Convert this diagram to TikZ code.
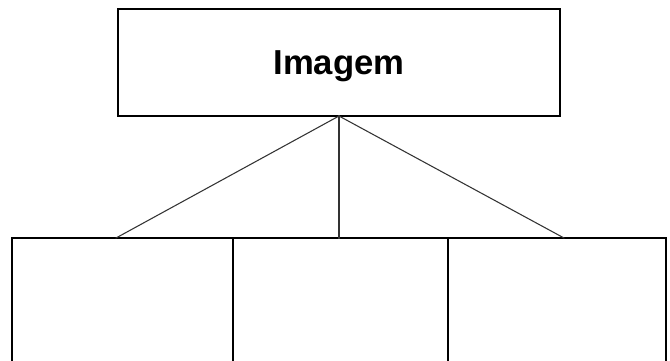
\documentclass[tikz,border=0pt]{standalone}
\usepackage{fontspec}
\setmainfont{Liberation Sans}
\usetikzlibrary{positioning}

\tikzset{
  box/.style={draw,line width=1.5pt,inner sep=0pt,outer sep=0pt},
  link/.style={line width=0.8pt,draw=black!80}
}

\begin{document}
\begin{tikzpicture}[x=0.75pt,y=-0.75pt,line cap=rect]
\useasboundingbox (0,0) rectangle (670,360);
\clip (0,0) rectangle (670,360);
% top node
\node[box,minimum width=442*0.75pt,minimum height=107*0.75pt,text depth=0pt,
  font=\fontsize{26}{30}\selectfont\bfseries] (img) at (339,62.5) {Imagem};
% bottom row, cut off by the page edge
\node[box,minimum width=220.5*0.75pt,minimum height=160*0.75pt,anchor=north west] (p1) at (12,238) {};
\node[box,minimum width=215.5*0.75pt,minimum height=160*0.75pt,anchor=north west] (p2) at (p1.north east) {};
\node[box,minimum width=218*0.75pt,minimum height=160*0.75pt,anchor=north west] (p3) at (p2.north east) {};
\coordinate (e1) at (116,238);
\coordinate (e3) at (564,238);
\draw[link] (img.south) -- (e1);
\draw[link] (img.south) -- (img.south |- p2.north);
\draw[link] (img.south) -- (e3);
\end{tikzpicture}
\end{document}
